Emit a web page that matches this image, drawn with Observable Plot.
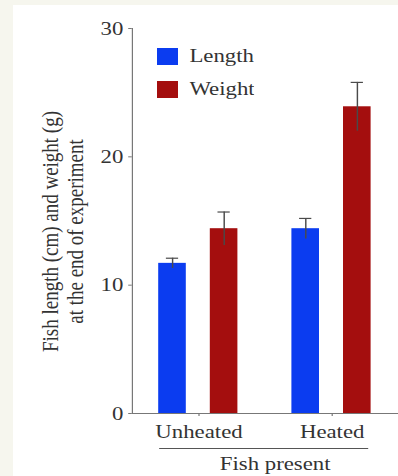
<!DOCTYPE html>
<html>
<head>
<meta charset="utf-8">
<script src="https://cdn.jsdelivr.net/npm/d3@7"></script>
<script src="https://cdn.jsdelivr.net/npm/@observablehq/plot@0.6"></script>
<style>
  html, body { margin: 0; padding: 0; width: 398px; height: 476px; overflow: hidden; background: #f6f6ee; }
  /* the panel is drawn narrow and widened horizontally, like the printed figure */
  #panel { position: absolute; left: 13px; top: 5px; width: 321px; height: 471px; background: #fff;
           transform: scaleX(1.2); transform-origin: 0 0; }
  #legend { position: absolute; left: 120px; top: 40px; }
  .lg-swatch { margin-bottom: 10px; }
</style>
</head>
<body>
<div id="panel"><div id="legend"></div></div>
<script>
// Fish size at the end of the experiment (fish present), mean ± error
const groups = ["Unheated", "Heated"];
const series = ["Length", "Weight"];
const colors = ["#0b3cf0", "#a40e0e"];
const lengthMean = [11.7, 14.4];
const lengthErr = [0.4, 0.8];
const weightMean = [14.4, 23.9];
const weightErr = [1.3, 1.9];
const yTicks = [0, 10, 20, 30];
const yTitle = "Fish length (cm) and weight (g)\nat the end of experiment";
const xTitle = "Fish present";

const rows = groups.flatMap((g, i) => [
  {group: g, series: "Length", value: lengthMean[i], err: lengthErr[i]},
  {group: g, series: "Weight", value: weightMean[i], err: weightErr[i]}
]);

const font = "'Liberation Serif', 'Times New Roman', serif";
const ink = "#333";
const axisGray = "#777";
const errGray = "#4a4a4a";

const chart = Plot.plot({
  width: 321,
  height: 471,
  marginLeft: 98,
  marginRight: 0,
  marginTop: 23,
  marginBottom: 63,
  style: {fontFamily: font, fontSize: "19px", color: ink, background: "transparent", overflow: "visible"},
  fx: {domain: groups, padding: 0, label: null},
  x: {domain: series, paddingInner: 0.457, paddingOuter: 0.503, axis: null},
  y: {domain: [0, 30], axis: null},
  color: {domain: series, range: colors},
  marks: [
    Plot.barY(rows, {fx: "group", x: "series", y: "value", fill: "series"}),
    Plot.ruleX(rows, {fx: "group", x: "series", y1: d => d.value - d.err, y2: d => d.value + d.err,
                      stroke: errGray, strokeWidth: 1.2}),
    Plot.tickY(rows, {fx: "group", x: "series", y: d => d.value + d.err,
                      stroke: errGray, strokeWidth: 1.2, insetLeft: 6.4, insetRight: 6.4}),
    Plot.frame({anchor: "left", facet: "super", stroke: axisGray}),
    Plot.frame({anchor: "bottom", facet: "super", stroke: axisGray}),
    Plot.axisY({ticks: yTicks, tickSize: 3, tickPadding: 4.5, stroke: axisGray, fill: ink, label: null}),
    Plot.axisFx({anchor: "bottom", tickSize: 3, tickPadding: 8.5, stroke: axisGray, fill: ink, label: null}),
    // bracket under the group names
    Plot.frame({anchor: "bottom", facet: "super", dy: 35, insetLeft: 22.8, insetRight: 26, stroke: "#555"}),
    Plot.text([xTitle], {facet: "super", frameAnchor: "bottom", lineAnchor: "bottom", dx: 8, dy: 56,
                         fill: ink, fontSize: 19}),
    Plot.text([yTitle], {facet: "super", frameAnchor: "left", rotate: -90, dx: -58, dy: 10.5,
                         lineAnchor: "middle", textAnchor: "middle", lineHeight: 1.1, fill: ink, fontSize: 19})
  ]
});

document.getElementById("panel").insertBefore(chart, document.getElementById("legend"));

const legend = Plot.legend({
  color: {domain: series, range: colors},
  legend: "swatches",
  columns: 1,
  swatchWidth: 17.5,
  swatchHeight: 17,
  className: "lg",
  style: {fontFamily: font, fontSize: "19px", color: ink}
});
document.getElementById("legend").appendChild(legend);
</script>
</body>
</html>
